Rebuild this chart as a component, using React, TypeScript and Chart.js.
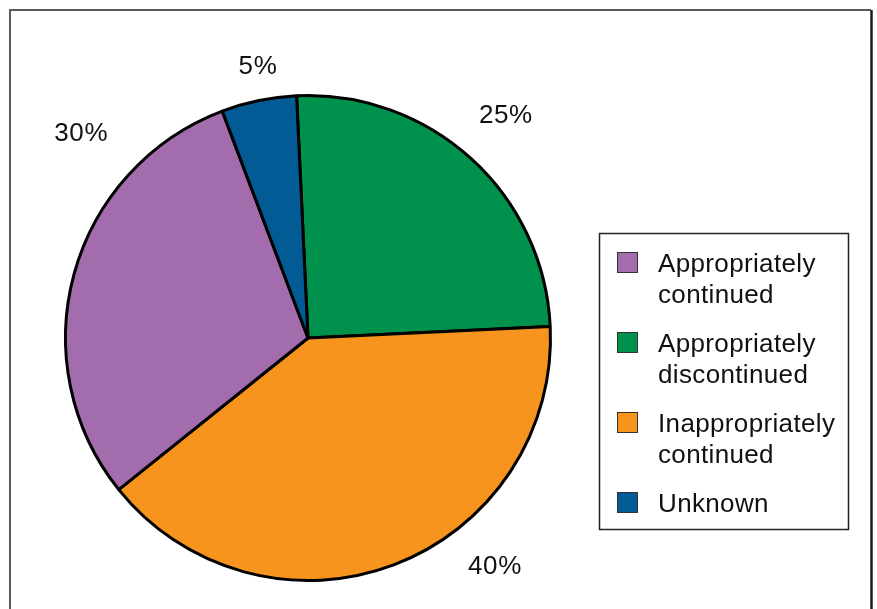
import React, { useEffect, useRef } from "react";
import { Chart, registerables } from "chart.js";

Chart.register(...registerables);

// ---- data ----
const categories = [
  "Appropriately discontinued",
  "Inappropriately continued",
  "Appropriately continued",
  "Unknown",
];
const values = [25, 40, 30, 5];
const percentLabels = ["25%", "40%", "30%", "5%"];
const legendOrder = [
  "Appropriately continued",
  "Appropriately discontinued",
  "Inappropriately continued",
  "Unknown",
];
const colors = ["#00914C", "#F7941D", "#A36CAD", "#035B96"];

const FONT = "26px 'Liberation Sans', Arial, Helvetica, sans-serif";

// percent label placement (fraction along the arc, radius factor)
const labelPlacement = [
  { frac: 0.49, radius: 1.232 },
  { frac: 0.37, radius: 1.212 },
  { frac: 0.75, radius: 1.266 },
  { frac: 0.57, radius: 1.145 },
];

const framePlugin = {
  id: "frame",
  beforeDraw(chart: any) {
    const ctx = chart.ctx;
    ctx.save();
    ctx.fillStyle = "#ffffff";
    ctx.fillRect(0, 0, chart.width, chart.height);
    ctx.lineWidth = 2;
    ctx.strokeStyle = "#5a5a5a";
    ctx.beginPath();
    ctx.moveTo(10, chart.height);
    ctx.lineTo(10, 10);
    ctx.lineTo(871, 10);
    ctx.stroke();
    ctx.strokeStyle = "#1a1a1a";
    ctx.lineWidth = 2.5;
    ctx.beginPath();
    ctx.moveTo(871.5, 10);
    ctx.lineTo(871.5, chart.height);
    ctx.stroke();
    ctx.restore();
  },
};

const percentPlugin = {
  id: "percentLabels",
  afterDatasetsDraw(chart: any) {
    const meta = chart.getDatasetMeta(0);
    const ctx = chart.ctx;
    ctx.save();
    ctx.font = FONT;
    ctx.fillStyle = "#111";
    ctx.textAlign = "center";
    ctx.textBaseline = "alphabetic";
    (ctx as any).letterSpacing = "0.6px";
    meta.data.forEach((arc: any, i: number) => {
      const p = arc.getProps(["x", "y", "startAngle", "endAngle", "outerRadius"], true);
      const pl = labelPlacement[i];
      const a = p.startAngle + (p.endAngle - p.startAngle) * pl.frac;
      const r = p.outerRadius * pl.radius;
      const cx = p.x + r * Math.cos(a);
      const cy = p.y + r * Math.sin(a);
      ctx.fillText(percentLabels[i], cx + 0.3, cy + 9.3);
    });
    ctx.restore();
  },
};

function wrapText(ctx: CanvasRenderingContext2D, text: string, maxW: number) {
  const words = text.split(" ");
  const lines: string[] = [];
  let cur = "";
  words.forEach((w) => {
    const t = cur ? cur + " " + w : w;
    if (cur && ctx.measureText(t).width > maxW) {
      lines.push(cur);
      cur = w;
    } else cur = t;
  });
  if (cur) lines.push(cur);
  return lines;
}

const legendPlugin = {
  id: "boxLegend",
  afterDraw(chart: any) {
    const ctx = chart.ctx;
    const bx = 599.5, by = 233.5, bw = 249, bh = 296;
    ctx.save();
    ctx.lineWidth = 1.5;
    ctx.strokeStyle = "#222";
    ctx.strokeRect(bx, by, bw, bh);
    ctx.font = FONT;
    (ctx as any).letterSpacing = "0.35px";
    ctx.textAlign = "left";
    ctx.textBaseline = "alphabetic";
    const lineH = 31;
    const gap = 18;
    let base = 272;
    legendOrder.forEach((name) => {
      const i = categories.indexOf(name);
      const lines = wrapText(ctx, name, 185);
      ctx.fillStyle = colors[i];
      ctx.fillRect(617, base - 20, 21, 21);
      ctx.lineWidth = 1;
      ctx.strokeStyle = "#333";
      ctx.strokeRect(617.5, base - 19.5, 20, 20);
      ctx.fillStyle = "#111";
      lines.forEach((ln, k) => ctx.fillText(ln, 658, base + k * lineH));
      base += lines.length * lineH + gap;
    });
    ctx.restore();
  },
};

export default function App() {
  const ref = useRef<HTMLCanvasElement | null>(null);
  useEffect(() => {
    if (!ref.current) return;
    const chart = new Chart(ref.current, {
      type: "pie",
      data: {
        labels: categories,
        datasets: [
          {
            data: values,
            backgroundColor: colors,
            borderColor: "#000000",
            borderWidth: 3,
          },
        ],
      },
      options: {
        animation: false,
        responsive: true,
        maintainAspectRatio: false,
        rotation: -2.7,
        layout: { padding: { left: 64, top: 94, right: 325, bottom: 27 } },
        plugins: {
          legend: { display: false },
          tooltip: { enabled: false },
          title: { display: false },
        },
      },
      plugins: [framePlugin, percentPlugin, legendPlugin],
    });
    return () => chart.destroy();
  }, []);
  return (
    <div style={{ position: "fixed", left: 0, top: 0, width: 877, height: 609, background: "#fff" }}>
      <canvas ref={ref} />
    </div>
  );
}
